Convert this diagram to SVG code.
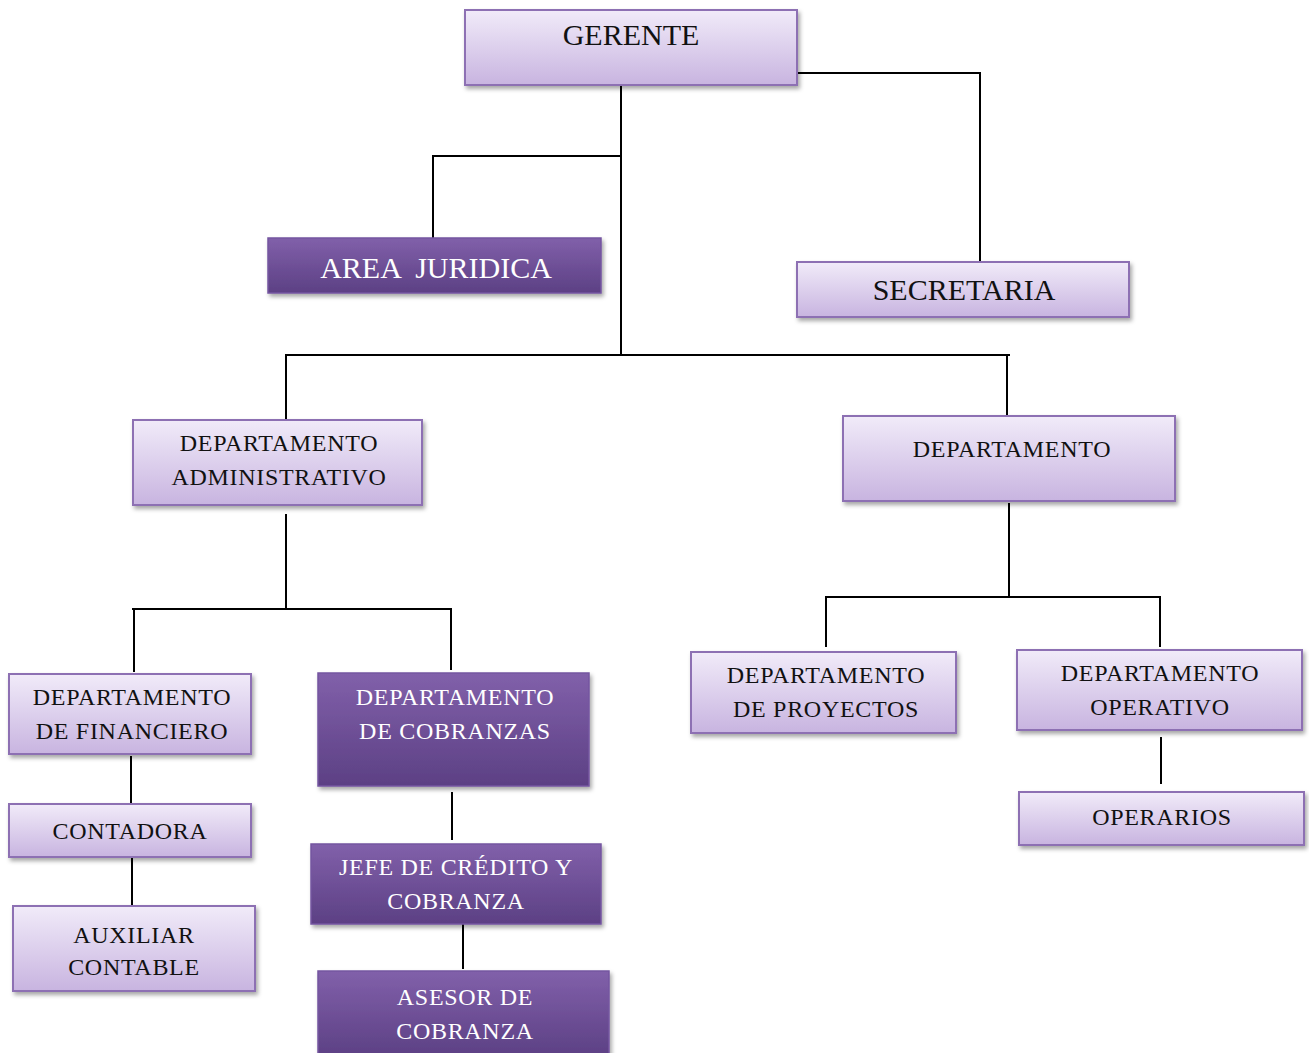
<svg xmlns="http://www.w3.org/2000/svg" width="1309" height="1053" viewBox="0 0 1309 1053">
  <defs>
    <linearGradient id="gLight" x1="0" y1="0" x2="0" y2="1">
      <stop offset="0" stop-color="#f1ebf9"/>
      <stop offset="1" stop-color="#c8b4e0"/>
    </linearGradient>
    <linearGradient id="gDark" x1="0" y1="0" x2="0" y2="1">
      <stop offset="0" stop-color="#8160aa"/>
      <stop offset="1" stop-color="#5c4084"/>
    </linearGradient>
    <filter id="shadow" x="-10%" y="-20%" width="120%" height="150%">
      <feDropShadow dx="2" dy="3" stdDeviation="2" flood-color="#000" flood-opacity="0.35"/>
    </filter>
  </defs>
  <style>
    .light { fill: url(#gLight); stroke: #8d6fb3; stroke-width: 2; filter: url(#shadow); }
    .dark { fill: url(#gDark); stroke: #7456a0; stroke-width: 1.5; filter: url(#shadow); }
    .t { font-family: "Liberation Serif", "Times New Roman", serif; text-anchor: middle; fill: #111; }
    .tw { fill: #ffffff; }
    .big { font-size: 30px; }
    .mid { font-size: 24px; letter-spacing: 0.7px; }
    .conn line { stroke: #000; stroke-width: 2; }
  </style>
  <rect width="1309" height="1053" fill="#ffffff"/>

  <!-- connectors -->
  <g id="connectors" class="conn">
    <line x1="621" y1="82" x2="621" y2="356"/>
    <line x1="432" y1="156" x2="622" y2="156"/>
    <line x1="433" y1="155" x2="433" y2="238"/>
    <line x1="797" y1="73" x2="981" y2="73"/>
    <line x1="980" y1="72" x2="980" y2="262"/>
    <line x1="285" y1="355" x2="1010" y2="355"/>
    <line x1="286" y1="354" x2="286" y2="420"/>
    <line x1="1007" y1="354" x2="1007" y2="418"/>
    <line x1="286" y1="514" x2="286" y2="610"/>
    <line x1="132" y1="609" x2="452" y2="609"/>
    <line x1="134" y1="608" x2="134" y2="672"/>
    <line x1="451" y1="608" x2="451" y2="670"/>
    <line x1="1009" y1="503" x2="1009" y2="598"/>
    <line x1="825" y1="597" x2="1161" y2="597"/>
    <line x1="826" y1="596" x2="826" y2="647"/>
    <line x1="1160" y1="596" x2="1160" y2="647"/>
    <line x1="1161" y1="737" x2="1161" y2="784"/>
    <line x1="131" y1="756" x2="131" y2="804"/>
    <line x1="132" y1="857" x2="132" y2="905"/>
    <line x1="452" y1="792" x2="452" y2="840"/>
    <line x1="463" y1="924" x2="463" y2="969"/>
  </g>

  <g id="gerente">
    <rect class="light" x="465" y="10" width="332" height="75"/>
    <text class="t big" x="631" y="45">GERENTE</text>
  </g>

  <g id="area-juridica">
    <rect class="dark" x="268" y="238" width="333" height="55"/>
    <text class="t tw big" x="436" y="278" xml:space="preserve">AREA  JURIDICA</text>
  </g>

  <g id="secretaria">
    <rect class="light" x="797" y="262" width="332" height="55"/>
    <text class="t big" x="964" y="300">SECRETARIA</text>
  </g>

  <g id="dep-administrativo">
    <rect class="light" x="133" y="420" width="289" height="85"/>
    <text class="t mid" x="279" y="451">DEPARTAMENTO</text>
    <text class="t mid" x="279" y="485">ADMINISTRATIVO</text>
  </g>

  <g id="departamento">
    <rect class="light" x="843" y="416" width="332" height="85"/>
    <text class="t mid" x="1012" y="457">DEPARTAMENTO</text>
  </g>

  <g id="dep-financiero">
    <rect class="light" x="9" y="674" width="242" height="80"/>
    <text class="t mid" x="132" y="705">DEPARTAMENTO</text>
    <text class="t mid" x="132" y="739">DE FINANCIERO</text>
  </g>

  <g id="dep-cobranzas">
    <rect class="dark" x="318" y="673" width="271" height="113"/>
    <text class="t tw mid" x="455" y="705">DEPARTAMENTO</text>
    <text class="t tw mid" x="455" y="739">DE COBRANZAS</text>
  </g>

  <g id="dep-proyectos">
    <rect class="light" x="691" y="652" width="265" height="81"/>
    <text class="t mid" x="826" y="683">DEPARTAMENTO</text>
    <text class="t mid" x="826" y="717">DE PROYECTOS</text>
  </g>

  <g id="dep-operativo">
    <rect class="light" x="1017" y="650" width="285" height="80"/>
    <text class="t mid" x="1160" y="681">DEPARTAMENTO</text>
    <text class="t mid" x="1160" y="715">OPERATIVO</text>
  </g>

  <g id="operarios">
    <rect class="light" x="1019" y="792" width="285" height="53"/>
    <text class="t mid" x="1162" y="825">OPERARIOS</text>
  </g>

  <g id="contadora">
    <rect class="light" x="9" y="804" width="242" height="53"/>
    <text class="t mid" x="130" y="839">CONTADORA</text>
  </g>

  <g id="auxiliar-contable">
    <rect class="light" x="13" y="906" width="242" height="85"/>
    <text class="t mid" x="134" y="943">AUXILIAR</text>
    <text class="t mid" x="134" y="975">CONTABLE</text>
  </g>

  <g id="jefe-credito">
    <rect class="dark" x="311" y="844" width="290" height="80"/>
    <text class="t tw mid" x="456" y="875">JEFE DE CRÉDITO Y</text>
    <text class="t tw mid" x="456" y="909">COBRANZA</text>
  </g>

  <g id="asesor-cobranza">
    <rect class="dark" x="318" y="971" width="291" height="86"/>
    <text class="t tw mid" x="465" y="1005">ASESOR DE</text>
    <text class="t tw mid" x="465" y="1039">COBRANZA</text>
  </g>
</svg>
